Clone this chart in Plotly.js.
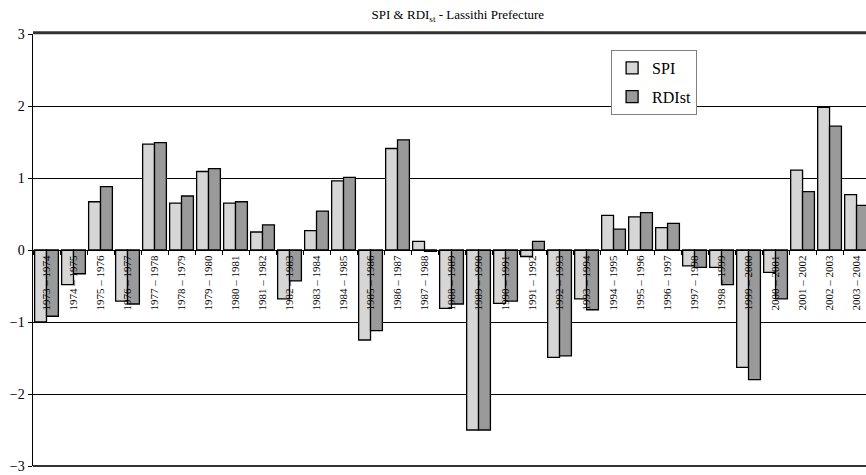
<!DOCTYPE html>
<html>
<head>
<meta charset="utf-8">
<script src="https://cdn.plot.ly/plotly-3.0.1.min.js"></script>
<style>
html,body{margin:0;padding:0;background:#fff;}
#chart{width:866px;height:475px;}
</style>
</head>
<body>
<div id="chart"></div>
<script>
const categories = ["1973 – 1974","1974 – 1975","1975 – 1976","1976 – 1977","1977 – 1978","1978 – 1979","1979 – 1980","1980 – 1981","1981 – 1982","1982 – 1983","1983 – 1984","1984 – 1985","1985 – 1986","1986 – 1987","1987 – 1988","1988 – 1989","1989 – 1990","1990 – 1991","1991 – 1992","1992 – 1993","1993 – 1994","1994 – 1995","1995 – 1996","1996 – 1997","1997 – 1998","1998 – 1999","1999 – 2000","2000 – 2001","2001 – 2002","2002 – 2003","2003 – 2004"];
const spi   = [-1.00,-0.48,0.67,-0.71,1.47,0.65,1.09,0.65,0.25,-0.68,0.27,0.96,-1.25,1.41,0.12,-0.81,-2.50,-0.74,-0.09,-1.49,-0.68,0.48,0.46,0.31,-0.22,-0.24,-1.63,-0.31,1.11,1.98,0.77];
const rdist = [-0.92,-0.33,0.88,-0.75,1.49,0.75,1.13,0.67,0.35,-0.43,0.54,1.01,-1.12,1.53,-0.02,-0.75,-2.50,-0.71,0.12,-1.47,-0.83,0.29,0.52,0.37,-0.24,-0.48,-1.80,-0.68,0.81,1.72,0.62];
const yTicks = [-3,-2,-1,0,1,2,3];

const serif = "Liberation Serif";
const traces = [
  {type:'bar', name:'SPI', x:categories, y:spi, legendgroup:'a',
   marker:{color:'#d6d6d6', line:{color:'#000', width:1.3}}},
  {type:'bar', name:'RDIst', x:categories, y:rdist, legendgroup:'b',
   marker:{color:'#9a9a9a', line:{color:'#000', width:1.3}}}
];
const layout = {
  width:866, height:475,
  margin:{l:33, r:0, t:34, b:9, pad:0},
  paper_bgcolor:'#fff', plot_bgcolor:'#fff',
  font:{family:serif, color:'#000'},
  title:{text:'SPI & RDI<sub>st</sub> - Lassithi Prefecture', font:{family:serif, size:13, color:'#000'},
         x:0.51, xref:'paper', xanchor:'center', y:0.97, yanchor:'middle'},
  barmode:'group', bargap:0.12, bargroupgap:0,
  showlegend:true,
  legend:{x:0.694, y:0.963, xanchor:'left', yanchor:'top', bgcolor:'#fff', bordercolor:'#808080', borderwidth:1,
          font:{family:serif, size:16, color:'#000'}, traceorder:'grouped', tracegroupgap:5, itemwidth:30},
  shapes:[
    {type:'line', xref:'paper', yref:'paper', x0:0, x1:1, y0:1.003, y1:1.003, layer:'above', line:{color:'#333', width:3}},
    {type:'line', xref:'paper', yref:'paper', x0:0, x1:1, y0:0, y1:0, layer:'above', line:{color:'#333', width:2}}
  ],
  xaxis:{type:'category', range:[-0.5, 30.35], anchor:'free', position:0.5,
         showline:true, linecolor:'#000', linewidth:1, showgrid:false,
         ticks:'outside', tickson:'boundaries', ticklen:4, tickcolor:'#000',
         tickangle:-90, tickfont:{family:serif, size:11, color:'#000'}, fixedrange:true},
  yaxis:{range:[-3,3], tickvals:yTicks, ticktext:yTicks.map(v=> v<0 ? '−'+Math.abs(v) : String(v)),
         showgrid:true, gridcolor:'#000', gridwidth:1, zeroline:true, zerolinecolor:'#000', zerolinewidth:1,
         showline:true, linecolor:'#000', linewidth:1.5, ticks:'outside', ticklen:4, tickcolor:'#000',
         tickfont:{family:serif, size:14, color:'#000'}, fixedrange:true}
};
Plotly.newPlot('chart', traces, layout, {displayModeBar:false, staticPlot:true});
</script>
</body>
</html>
